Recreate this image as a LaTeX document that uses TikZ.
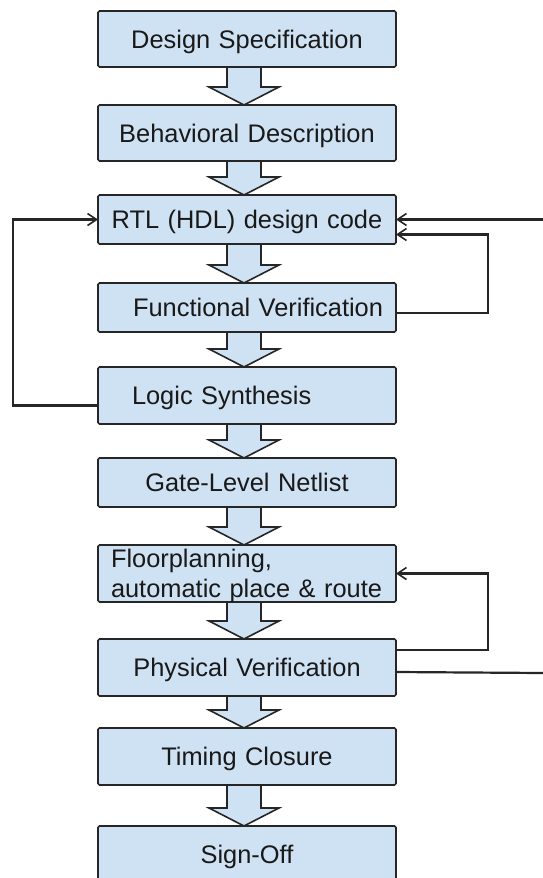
\documentclass[tikz,border=0pt]{standalone}
\usepackage{fontspec}
\setmainfont{Liberation Sans}
\usepackage{xcolor}
\usepackage{tikz}
\usetikzlibrary{arrows.meta, positioning, backgrounds, calc}
\definecolor{boxblue}{HTML}{CFE2F3}
\definecolor{edge}{HTML}{262626}
\tikzset{
  stage/.style={
    rectangle, rounded corners=1.5pt,
    draw=edge, line width=1.6pt,
    fill=boxblue, outer sep=0pt,
    text width=272pt, inner xsep=13pt, inner ysep=0pt,
    align=center, text depth=0pt,
    text=black!90,
    font=\fontsize{25.4}{30}\selectfont
  },
  flow/.style={draw=edge, fill=boxblue, line width=1.6pt, line join=miter},
  fb/.style={draw=edge, line width=2.2pt, -{Straight Barb[length=9pt, width=12pt, line width=1.6pt]}},
  fbline/.style={draw=edge, line width=2.2pt}
}
\begin{document}
\begin{tikzpicture}
  \useasboundingbox (0,0) rectangle (543pt,-878pt);

  % ---- Nodes ----
  \node[stage, minimum height=56pt] (spec) at (247pt,-39pt) {Design Specification};
  \node[stage, minimum height=56pt, below=38pt of spec] (beh) {Behavioral Description};
  \node[stage, minimum height=49pt, below=34pt of beh]  (rtl) {RTL (HDL) design code};
  \node[stage, minimum height=49pt, below=39pt of rtl, align=right] (fv) {Functional Verification};
  \node[stage, minimum height=57pt, below=35pt of fv, align=left,
        text width=230pt, inner xsep=34pt] (syn) {Logic Synthesis};
  \node[stage, minimum height=49pt, below=34pt of syn] (gln) {Gate-Level Netlist};
  \node[stage, minimum height=57pt, below=38pt of gln, align=left, text depth=31pt] (fpr)
       {Floorplanning,\\automatic place \& route};
  \node[stage, minimum height=57pt, below=37pt of fpr] (phy) {Physical Verification};
  \node[stage, minimum height=57pt, below=32pt of phy] (tim) {Timing Closure};
  \node[stage, minimum height=57pt, below=41pt of tim] (sig) {Sign-Off};

  % ---- Block arrows between stages ----
  \begin{scope}[on background layer]
    \foreach \a/\b in {spec/beh, beh/rtl, rtl/fv, fv/syn, syn/gln,
                       gln/fpr, fpr/phy, phy/tim, tim/sig}
      \draw[flow] let \p1=(\a.south), \p2=(\b.north) in
        (\x1-20pt,\y1) -- (\x1-20pt,\y2+18pt) -- (\x1-38pt,\y2+18pt) -- (\x1-3pt,\y2)
        -- (\x1+32pt,\y2+18pt) -- (\x1+14pt,\y2+18pt) -- (\x1+14pt,\y1);
  \end{scope}

  % ---- Feedback ----
  \coordinate (rtlin)  at ($(rtl.east)+(147pt,0)$);
  \coordinate (phyout) at ($(phy.east)+(147pt,-5.5pt)$);

  \draw[fb] ([yshift=-10pt]syn.west) -- ++(-85pt,0) |- (rtl.west);
  \draw[fb, line width=2.8pt] (rtlin) -- (rtl.east);
  \draw[fb] ([yshift=-5.5pt]fv.east) -| ([xshift=92pt,yshift=-15pt]rtl.east)
            -- ([yshift=-15pt]rtl.east);
  \draw[fb] ([yshift=17.5pt]phy.east) -| ([xshift=92pt]fpr.east) -- (fpr.east);
  \draw[fbline] ([yshift=-4.5pt]phy.east) -- (phyout);

\end{tikzpicture}
\end{document}
